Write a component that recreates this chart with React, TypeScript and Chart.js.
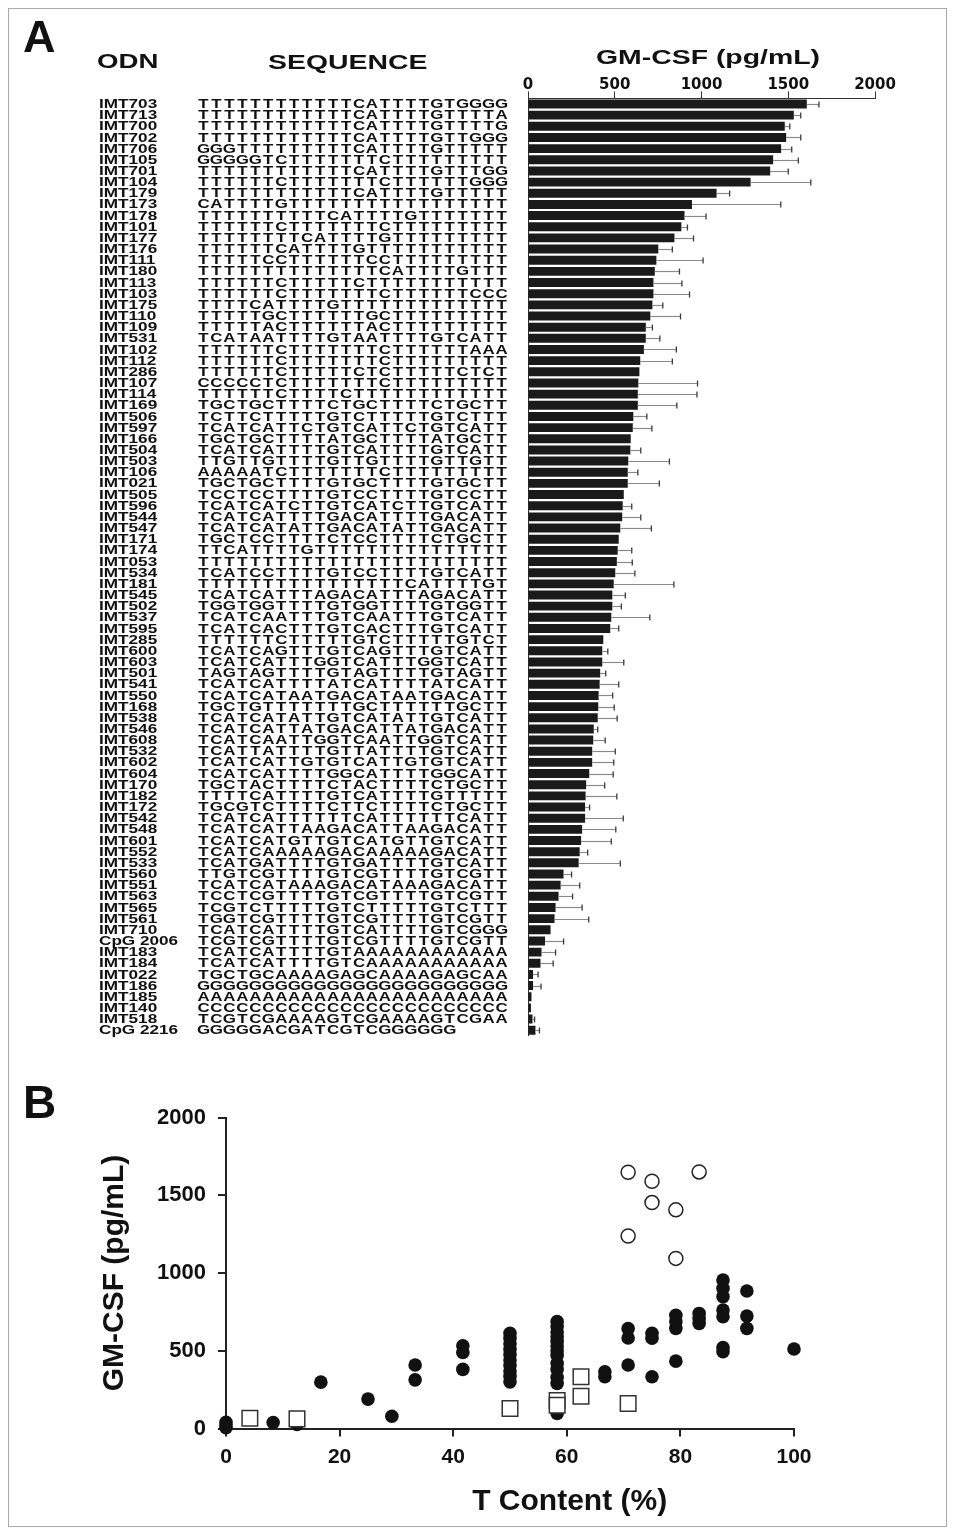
import React, { useEffect, useRef } from 'react';
import { Chart, registerables } from 'chart.js';

Chart.register(...registerables);

// ---------- Panel A data ----------
const odnNames = [
  'IMT703', 'IMT713', 'IMT700', 'IMT702', 'IMT706', 'IMT105', 'IMT701', 'IMT104', 'IMT179', 'IMT173',
  'IMT178', 'IMT101', 'IMT177', 'IMT176', 'IMT111', 'IMT180', 'IMT113', 'IMT103', 'IMT175', 'IMT110',
  'IMT109', 'IMT531', 'IMT102', 'IMT112', 'IMT286', 'IMT107', 'IMT114', 'IMT169', 'IMT506', 'IMT597',
  'IMT166', 'IMT504', 'IMT503', 'IMT106', 'IMT021', 'IMT505', 'IMT596', 'IMT544', 'IMT547', 'IMT171',
  'IMT174', 'IMT053', 'IMT534', 'IMT181', 'IMT545', 'IMT502', 'IMT537', 'IMT595', 'IMT285', 'IMT600',
  'IMT603', 'IMT501', 'IMT541', 'IMT550', 'IMT168', 'IMT538', 'IMT546', 'IMT608', 'IMT532', 'IMT602',
  'IMT604', 'IMT170', 'IMT182', 'IMT172', 'IMT542', 'IMT548', 'IMT601', 'IMT552', 'IMT533', 'IMT560',
  'IMT551', 'IMT563', 'IMT565', 'IMT561', 'IMT710', 'CpG 2006', 'IMT183', 'IMT184', 'IMT022', 'IMT186',
  'IMT185', 'IMT140', 'IMT518', 'CpG 2216',
];

const sequences = [
  'TTTTTTTTTTTTCATTTTGTGGGG', 'TTTTTTTTTTTTCATTTTGTTTTA', 'TTTTTTTTTTTTCATTTTGTTTTG', 'TTTTTTTTTTTTCATTTTGTTGGG',
  'GGGTTTTTTTTTCATTTTGTTTTT', 'GGGGGTCTTTTTTTCTTTTTTTTT', 'TTTTTTTTTTTTCATTTTGTTTGG', 'TTTTTTCTTTTTTTCTTTTTTGGG',
  'TTTTTTTTTTTTCATTTTGTTTTT', 'CATTTTGTTTTTTTTTTTTTTTTT', 'TTTTTTTTTTCATTTTGTTTTTTT', 'TTTTTTCTTTTTTTCTTTTTTTTT',
  'TTTTTTTTCATTTTGTTTTTTTTT', 'TTTTTTCATTTTGTTTTTTTTTTT', 'TTTTTCCTTTTTTCCTTTTTTTTT', 'TTTTTTTTTTTTTTCATTTTGTTT',
  'TTTTTTCTTTTTCTTTTTTTTTTT', 'TTTTTTCTTTTTTTCTTTTTTCCC', 'TTTTCATTTTGTTTTTTTTTTTTT', 'TTTTTGCTTTTTTGCTTTTTTTTT',
  'TTTTTACTTTTTTACTTTTTTTTT', 'TCATAATTTTGTAATTTTGTCATT', 'TTTTTTCTTTTTTTCTTTTTTAAA', 'TTTTTTCTTTTTTTCTTTTTTTTT',
  'TTTTTTCTTTTTCTCTTTTTCTCT', 'CCCCCTCTTTTTTTCTTTTTTTTT', 'TTTTTTCTTTTCTTTTTTTTTTTT', 'TGCTGCTTTTCTGCTTTTCTGCTT',
  'TCTTCTTTTTGTCTTTTTGTCTTT', 'TCATCATTCTGTCATTCTGTCATT', 'TGCTGCTTTTATGCTTTTATGCTT', 'TCATCATTTTGTCATTTTGTCATT',
  'TTGTTGTTTTGTTGTTTTGTTGTT', 'AAAAATCTTTTTTTCTTTTTTTTT', 'TGCTGCTTTTGTGCTTTTGTGCTT', 'TCCTCCTTTTGTCCTTTTGTCCTT',
  'TCATCATCTTGTCATCTTGTCATT', 'TCATCATTTTGACATTTTGACATT', 'TCATCATATTGACATATTGACATT', 'TGCTCCTTTTCTCCTTTTCTGCTT',
  'TTCATTTTGTTTTTTTTTTTTTTT', 'TTTTTTTTTTTTTTTTTTTTTTTT', 'TCATCCTTTTGTCCTTTTGTCATT', 'TTTTTTTTTTTTTTTTCATTTTGT',
  'TCATCATTTAGACATTTAGACATT', 'TGGTGGTTTTGTGGTTTTGTGGTT', 'TCATCAATTTGTCAATTTGTCATT', 'TCATCACTTTGTCACTTTGTCATT',
  'TTTTTTCTTTTTGTCTTTTTGTCT', 'TCATCAGTTTGTCAGTTTGTCATT', 'TCATCATTTGGTCATTTGGTCATT', 'TAGTAGTTTTGTAGTTTTGTAGTT',
  'TCATCATTTTATCATTTTATCATT', 'TCATCATAATGACATAATGACATT', 'TGCTGTTTTTTTGCTTTTTTGCTT', 'TCATCATATTGTCATATTGTCATT',
  'TCATCATTATGACATTATGACATT', 'TCATCAATTGGTCAATTGGTCATT', 'TCATTATTTTGTTATTTTGTCATT', 'TCATCATTGTGTCATTGTGTCATT',
  'TCATCATTTTGGCATTTTGGCATT', 'TGCTACTTTTCTACTTTTCTGCTT', 'TTTTCATTTTGTCATTTTGTTTTT', 'TGCGTCTTTTCTTCTTTTCTGCTT',
  'TCATCATTTTTTCATTTTTTCATT', 'TCATCATTAAGACATTAAGACATT', 'TCATCATGTTGTCATGTTGTCATT', 'TCATCAAAAAGACAAAAAGACATT',
  'TCATGATTTTGTGATTTTGTCATT', 'TTGTCGTTTTGTCGTTTTGTCGTT', 'TCATCATAAAGACATAAAGACATT', 'TCCTCGTTTTGTCGTTTTGTCGTT',
  'TCGTCTTTTTGTCTTTTTGTCTTT', 'TGGTCGTTTTGTCGTTTTGTCGTT', 'TCATCATTTTGTCATTTTGTCGGG', 'TCGTCGTTTTGTCGTTTTGTCGTT',
  'TCATCATTTTGTAAAAAAAAAAAA', 'TCATCATTTTGTCAAAAAAAAAAA', 'TGCTGCAAAAGAGCAAAAGAGCAA', 'GGGGGGGGGGGGGGGGGGGGGGGG',
  'AAAAAAAAAAAAAAAAAAAAAAAA', 'CCCCCCCCCCCCCCCCCCCCCCCC', 'TCGTCGAAAAGTCGAAAAGTCGAA', 'GGGGGACGATCGTCGGGGGG',
];

const gmcsf = [
  1607, 1532, 1480, 1488, 1459, 1413, 1396, 1283, 1087, 945,
  902, 884, 844, 751, 740, 731, 723, 723, 717, 705,
  679, 679, 668, 647, 642, 636, 633, 633, 607, 604,
  592, 590, 578, 575, 575, 552, 546, 543, 532, 523,
  517, 512, 503, 494, 486, 486, 480, 474, 434, 428,
  428, 416, 413, 407, 405, 402, 379, 376, 370, 370,
  353, 335, 332, 329, 329, 312, 306, 298, 292, 205,
  188, 176, 159, 153, 130, 98, 78, 72, 29, 29,
  20, 17, 26, 43,
];

const gmcsfErr = [
  70, 40, 29, 84, 61, 145, 104, 347, 75, 512,
  124, 35, 110, 81, 269, 142, 164, 208, 60, 174,
  38, 81, 187, 185, 0, 341, 341, 225, 78, 110,
  0, 60, 237, 58, 182, 0, 52, 107, 179, 0,
  81, 89, 113, 347, 75, 52, 222, 49, 0, 32,
  124, 32, 110, 81, 92, 112, 23, 69, 133, 124,
  138, 107, 180, 26, 220, 194, 174, 46, 240, 46,
  110, 81, 153, 197, 0, 107, 81, 73, 29, 46,
  0, 0, 12, 23,
];

const barAxisMin = 0;
const barAxisMax = 2000;
const barAxisStep = 500;

// ---------- Panel B data ----------
const filledX = [
  0, 0, 0, 8.3, 12.5, 16.7, 25, 29.2, 33.3, 33.3, 41.7, 41.7, 41.7,
  50, 50, 50, 50, 50, 50, 50, 50, 50, 50,
  58.3, 58.3, 58.3, 58.3, 58.3, 58.3, 58.3, 58.3, 58.3, 58.3, 58.3, 58.3, 58.3,
  66.7, 66.7, 70.8, 70.8, 70.8, 75, 75, 75,
  79.2, 79.2, 79.2, 79.2, 83.3, 83.3, 83.3,
  87.5, 87.5, 87.5, 87.5, 87.5, 87.5, 87.5,
  91.7, 91.7, 91.7, 100,
];
const filledY = [
  40, 22, 5, 39, 26, 298, 189, 79, 408, 313, 532, 489, 380,
  612, 580, 545, 510, 475, 440, 405, 370, 335, 300,
  687, 655, 620, 590, 560, 530, 500, 470, 420, 380, 330, 290, 97,
  365, 333, 642, 582, 408, 612, 580, 333,
  728, 687, 644, 433, 740, 708, 676,
  955, 901, 848, 762, 719, 521, 494,
  884, 723, 644, 511,
];
const openCircleX = [70.8, 70.8, 75, 75, 79.2, 79.2, 83.3];
const openCircleY = [1648, 1238, 1590, 1453, 1406, 1094, 1650];
const squareX = [4.2, 12.5, 50, 58.3, 58.3, 62.5, 62.5, 70.8];
const squareY = [66, 62, 129, 180, 150, 333, 208, 161];

const tContentTicks = { min: 0, max: 100, step: 20 };
const gmTicks = { min: 0, max: 2000, step: 500 };
const xTitleB = 'T Content (%)';
const yTitleB = 'GM-CSF (pg/mL)';

const SANS = '"Liberation Sans", Arial, sans-serif';
const plainTick = (v: any) => String(v);

function stretchText(ctx: CanvasRenderingContext2D, text: string, x: number, y: number, sx: number, align: CanvasTextAlign = 'left') {
  ctx.save();
  ctx.translate(x, y);
  ctx.scale(sx, 1);
  ctx.textAlign = align;
  ctx.fillText(text, 0, 0);
  ctx.restore();
}

const panelAText = {
  id: 'panelAText',
  afterDraw(chart: any) {
    const ctx: CanvasRenderingContext2D = chart.ctx;
    const ys = chart.scales.y;
    ctx.save();
    ctx.fillStyle = '#111';
    ctx.textBaseline = 'middle';
    ctx.font = `bold 13px ${SANS}`;
    const cell = 12.96;
    odnNames.forEach((name, i) => {
      const py = ys.getPixelForValue(i);
      stretchText(ctx, name, 99, py + 0.5, 1.32, 'left');
      const seq = sequences[i];
      for (let j = 0; j < seq.length; j++) {
        stretchText(ctx, seq[j], 197 + cell * (j + 0.5), py + 0.5, 1.3, 'center');
      }
    });
    ctx.textBaseline = 'alphabetic';
    ctx.font = `bold 20px ${SANS}`;
    stretchText(ctx, 'ODN', 97, 68, 1.38);
    stretchText(ctx, 'SEQUENCE', 268, 69, 1.42);
    stretchText(ctx, 'GM-CSF (pg/mL)', 596, 64, 1.42);
    ctx.font = `bold 45px ${SANS}`;
    ctx.fillText('A', 23, 52);
    ctx.restore();
  },
};

const errorBars = {
  id: 'errorBars',
  afterDatasetsDraw(chart: any) {
    const ctx: CanvasRenderingContext2D = chart.ctx;
    const xs = chart.scales.x;
    const ys = chart.scales.y;
    ctx.save();
    gmcsf.forEach((v, i) => {
      const e = gmcsfErr[i];
      if (!e) return;
      const y = Math.round(ys.getPixelForValue(i)) + 0.5;
      const x0 = xs.getPixelForValue(v);
      const x1 = xs.getPixelForValue(v + e);
      ctx.strokeStyle = '#8a8a8a';
      ctx.lineWidth = 1.2;
      ctx.beginPath();
      ctx.moveTo(x0, y);
      ctx.lineTo(x1, y);
      ctx.stroke();
      ctx.strokeStyle = '#3a3a3a';
      ctx.lineWidth = 1.3;
      ctx.beginPath();
      ctx.moveTo(x1, y - 3);
      ctx.lineTo(x1, y + 3);
      ctx.stroke();
    });
    ctx.restore();
  },
};

const panelBText = {
  id: 'panelBText',
  afterDraw(chart: any) {
    const ctx: CanvasRenderingContext2D = chart.ctx;
    const xs = chart.scales.x;
    ctx.save();
    ctx.fillStyle = '#111';
    ctx.font = `bold 46px ${SANS}`;
    ctx.textBaseline = 'alphabetic';
    ctx.fillText('B', 23, 58);
    // x-axis title (sits right of the axis centre in the original)
    ctx.font = `bold 30px ${SANS}`;
    ctx.textAlign = 'center';
    ctx.fillText(xTitleB, xs.getPixelForValue(60.5), 450);
    ctx.restore();
  },
};

export default function App() {
  const refA = useRef<HTMLCanvasElement | null>(null);
  const refB = useRef<HTMLCanvasElement | null>(null);

  useEffect(() => {
    const chartA = new Chart(refA.current as HTMLCanvasElement, {
      type: 'bar',
      data: {
        labels: odnNames,
        datasets: [
          {
            data: gmcsf,
            backgroundColor: '#1a1a1a',
            borderWidth: 0,
            barPercentage: 0.8,
            categoryPercentage: 1,
          },
        ],
      },
      options: {
        indexAxis: 'y',
        animation: false,
        responsive: false,
        events: [],
        layout: { padding: { left: 528, right: 81, top: 68.4, bottom: 24.2 } },
        plugins: { legend: { display: false }, tooltip: { enabled: false } },
        scales: {
          x: {
            position: 'top',
            min: barAxisMin,
            max: barAxisMax,
            ticks: {
              stepSize: barAxisStep,
              callback: plainTick,
              color: '#111',
              padding: -3,
              maxRotation: 0,
              font: { family: '"DejaVu Sans", sans-serif', weight: 'bold', size: 15 },
            },
            grid: { drawOnChartArea: false, drawTicks: true, tickLength: 7, color: '#333', lineWidth: 1 },
            border: { display: true, color: '#333', width: 1 },
            afterFit: (s: any) => { s.height = 30; },
          },
          y: {
            ticks: { display: false },
            grid: { display: false },
            border: { display: true, color: '#333', width: 1 },
            afterFit: (s: any) => { s.width = 0; },
          },
        },
      } as any,
      plugins: [errorBars, panelAText],
    });

    const pts = (xs: number[], ys: number[]) => xs.map((x, i) => ({ x, y: ys[i] }));

    const chartB = new Chart(refB.current as HTMLCanvasElement, {
      type: 'scatter',
      data: {
        datasets: [
          {
            data: pts(squareX, squareY),
            pointStyle: 'rect',
            pointRadius: 11,
            pointBackgroundColor: '#fff',
            pointBorderColor: '#333',
            pointBorderWidth: 1.5,
            clip: false,
          },
          {
            data: pts(openCircleX, openCircleY),
            pointStyle: 'circle',
            pointRadius: 7,
            pointBackgroundColor: '#fff',
            pointBorderColor: '#222',
            pointBorderWidth: 1.5,
            clip: false,
          },
          {
            data: pts(filledX, filledY),
            pointStyle: 'circle',
            pointRadius: 6.8,
            pointBackgroundColor: '#111',
            pointBorderColor: '#111',
            pointBorderWidth: 0,
            clip: false,
          },
        ],
      } as any,
      options: {
        animation: false,
        responsive: false,
        events: [],
        layout: { padding: { left: 90, right: 162, top: 57.5, bottom: 4 } },
        plugins: { legend: { display: false }, tooltip: { enabled: false } },
        scales: {
          x: {
            type: 'linear',
            min: tContentTicks.min,
            max: tContentTicks.max,
            ticks: {
              stepSize: tContentTicks.step,
              callback: plainTick,
              color: '#111',
              padding: 8,
              maxRotation: 0,
              font: { family: SANS, weight: 'bold', size: 21 },
            },
            grid: { drawOnChartArea: false, drawTicks: true, tickLength: 8, color: '#222', lineWidth: 2 },
            border: { display: true, color: '#222', width: 2 },
            afterFit: (s: any) => { s.height = 97.5; },
          },
          y: {
            type: 'linear',
            min: gmTicks.min,
            max: gmTicks.max,
            ticks: {
              stepSize: gmTicks.step,
              callback: plainTick,
              color: '#111',
              padding: 12,
              font: { family: SANS, weight: 'bold', size: 22 },
            },
            grid: { drawOnChartArea: false, drawTicks: true, tickLength: 8, color: '#222', lineWidth: 2 },
            border: { display: true, color: '#222', width: 2 },
            title: {
              display: true,
              text: yTitleB,
              color: '#111',
              font: { family: SANS, weight: 'bold', size: 30 },
              padding: { top: 7, bottom: 0 },
            },
            afterFit: (s: any) => { s.width = 136; },
          },
        },
      } as any,
      plugins: [panelBText],
    });

    return () => {
      chartA.destroy();
      chartB.destroy();
    };
  }, []);

  return (
    <div style={{ position: 'absolute', left: 0, top: 0, width: 956, height: 1530, background: '#fff', overflow: 'hidden' }}>
      <div style={{ position: 'absolute', left: 8, top: 8, width: 939, height: 1519, border: '1px solid #aaa', boxSizing: 'border-box' }} />
      <canvas ref={refA} width={956} height={1060} style={{ position: 'absolute', left: 0, top: 0 }} />
      <canvas ref={refB} width={956} height={470} style={{ position: 'absolute', left: 0, top: 1060 }} />
    </div>
  );
}
